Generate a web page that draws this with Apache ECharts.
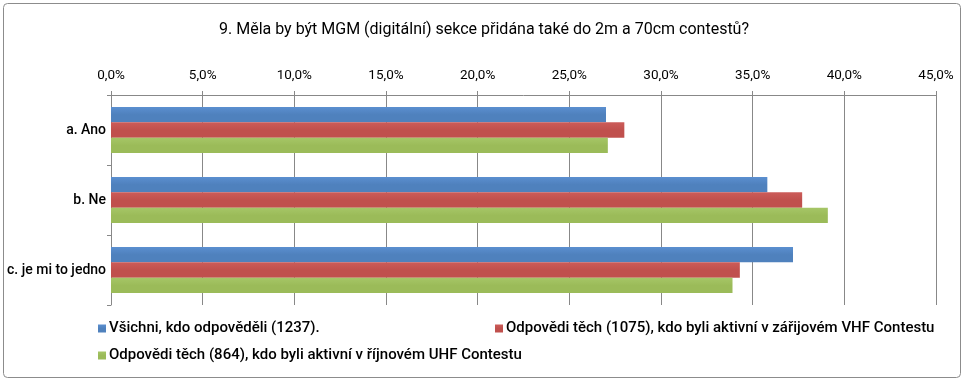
<!DOCTYPE html>
<html><head><meta charset="utf-8">
<script src="https://cdn.jsdelivr.net/npm/echarts@6/dist/echarts.min.js"></script>
<style>html,body{margin:0;padding:0;background:#fff}#c{width:965px;height:382px}</style>
</head><body><div id="c"></div>
<script>
const categories = ['a. Ano', 'b. Ne', 'c. je mi to jedno'];
const seriesNames = [
  'Všichni, kdo odpověděli (1237).',
  'Odpovědi těch (1075), kdo byli aktivní v zářijovém VHF Contestu',
  'Odpovědi těch (864), kdo byli aktivní v říjnovém UHF Contestu'
];
const allValues = [27.0, 35.8, 37.2];
const vhfValues = [28.0, 37.7, 34.3];
const uhfValues = [27.1, 39.1, 33.9];
const titleText = '9. Měla by být MGM (digitální) sekce přidána také do 2m a 70cm contestů?';

const FONT = 'Roboto';
const colors = ['#4F81BD', '#C0504D', '#9BBB59'];
function grad(c, light){
  return new echarts.graphic.LinearGradient(0,0,0,1,[
    {offset:0, color: light}, {offset:0.5, color: c}, {offset:1, color: c}
  ]);
}
const chart = echarts.init(document.getElementById('c'), null, {renderer:'canvas'});
const vals = [allValues, vhfValues, uhfValues];
const lights = ['#5B8FD0', '#CC5C59', '#A6C667'];
chart.setOption({
  animation:false,
  textStyle:{fontFamily:FONT},
  title:{text:titleText, left:479, top:17, textAlign:'center',
    textStyle:{fontFamily:FONT, fontSize:16, fontWeight:'normal', color:'#000'}},
  graphic:[{type:'rect', shape:{x:3.5,y:3.5,width:957,height:374,r:4}, style:{fill:'none', stroke:'#8c8c8c', lineWidth:1}, silent:true}],
  legend: seriesNames.map((n,i)=>({
    data:[n], left: i===1 ? 490 : 93, top: i===2 ? 348 : 321, padding:[0,5],
    itemWidth:8, itemHeight:8, itemGap:4, icon:'rect',
    textStyle:{fontFamily:FONT, fontSize:15, fontWeight:500, color:'#000', padding:[0,0,0,-2]}
  })),
  grid:{left:111, right:29, top:95, bottom:77, containLabel:false},
  xAxis:{type:'value', position:'top', min:0, max:45, interval:5,
    axisLine:{show:true, lineStyle:{color:'#888'}},
    axisTick:{show:true, length:4, lineStyle:{color:'#888'}},
    axisLabel:{formatter: v => v.toFixed(1).replace('.', ',') + '%', fontFamily:FONT, fontSize:13.5, color:'#000', margin:12},
    splitLine:{show:true, lineStyle:{color:'#888'}}
  },
  yAxis:{type:'category', data:categories, inverse:true,
    axisLine:{show:true, lineStyle:{color:'#888'}},
    axisTick:{show:true, length:4, lineStyle:{color:'#888'}},
    axisLabel:{fontFamily:FONT, fontSize:14, fontWeight:500, color:'#000', margin:5}
  },
  series: seriesNames.map((n,i)=>({
    name:n, type:'bar', data:vals[i], barGap:'0%', barCategoryGap:'34%',
    itemStyle:{color: grad(colors[i], lights[i])},
  })),
  color: colors
});
</script></body></html>
